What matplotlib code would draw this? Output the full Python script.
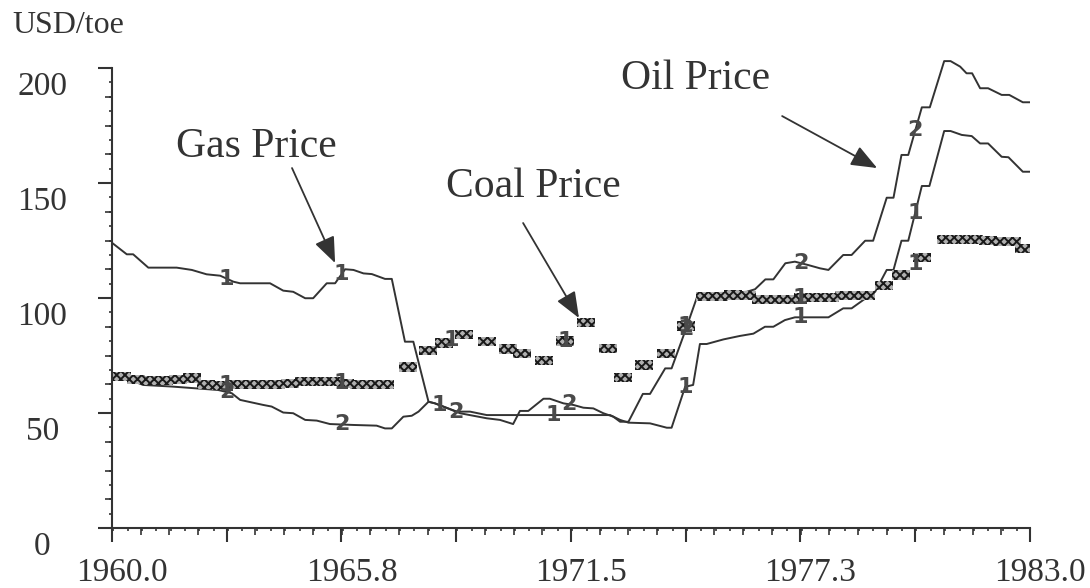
import numpy as np
import matplotlib
matplotlib.use("Agg")
import matplotlib.pyplot as plt
from matplotlib.ticker import FixedLocator, MultipleLocator
from matplotlib.transforms import ScaledTranslation

plt.rcParams["font.family"] = ["Liberation Serif", "DejaVu Serif"]
plt.rcParams["hatch.linewidth"] = 1.4

# ---- data (USD/toe) ----
gas_years = [1960.0, 1960.37, 1960.53, 1960.91, 1961.62, 1962.0, 1962.37, 1962.71,
             1963.04, 1963.21, 1963.96, 1964.29, 1964.54, 1964.84, 1965.04, 1965.38,
             1965.59, 1965.84, 1966.05, 1966.30, 1966.51, 1966.84, 1967.01, 1967.34,
             1967.55, 1967.93, 1968.09, 1968.64, 1968.97, 1969.39, 1972.48, 1972.73,
             1972.94, 1973.48, 1973.90, 1974.02, 1974.36, 1974.56, 1974.73, 1974.90,
             1975.32, 1975.73, 1976.07, 1976.36, 1976.57, 1976.86, 1977.11, 1977.95,
             1978.32, 1978.53, 1978.82, 1979.12, 1979.41, 1979.58, 1979.78, 1979.95,
             1980.29, 1980.48, 1980.85, 1981.01, 1981.29, 1981.54, 1981.75, 1981.95,
             1982.29, 1982.46, 1982.82, 1983.0]
gas = [124.0, 119.0, 119.0, 113.2, 113.2, 112.2, 110.3, 109.7,
       107.1, 106.4, 106.4, 103.2, 102.7, 99.9, 99.9, 106.4,
       106.4, 112.5, 112.2, 110.7, 110.4, 108.3, 108.3, 81.0,
       81.0, 54.9, 54.2, 50.6, 50.6, 49.1, 49.1, 47.0,
       45.8, 45.5, 43.6, 43.6, 61.4, 62.2, 80.0, 80.0,
       82.0, 83.5, 84.5, 87.5, 87.5, 90.4, 91.6, 91.6,
       95.5, 95.5, 99.1, 102.7, 112.2, 112.2, 124.9, 124.9,
       148.7, 148.7, 172.6, 172.6, 170.9, 170.4, 167.2, 167.2,
       161.4, 161.2, 154.9, 154.9]

oil_years = [1960.0, 1960.78, 1961.5, 1962.66, 1963.0, 1963.21, 1963.42, 1963.79,
             1964.0, 1964.29, 1964.54, 1964.84, 1965.13, 1965.46, 1966.05, 1966.63,
             1966.84, 1967.01, 1967.30, 1967.51, 1967.68, 1967.93, 1968.09, 1968.72,
             1969.39, 1969.72, 1970.05, 1970.22, 1970.43, 1970.81, 1970.97, 1971.31,
             1971.56, 1971.81, 1972.06, 1972.31, 1972.56, 1972.73, 1972.94, 1973.30,
             1973.48, 1973.86, 1974.02, 1974.31, 1974.69, 1975.5, 1975.9, 1976.11,
             1976.37, 1976.57, 1976.87, 1977.11, 1977.45, 1977.74, 1977.95, 1978.32,
             1978.53, 1978.87, 1979.07, 1979.41, 1979.58, 1979.78, 1979.95, 1980.29,
             1980.49, 1980.85, 1981.01, 1981.25, 1981.41, 1981.55, 1981.75, 1981.95,
             1982.29, 1982.48, 1982.82, 1983.0]
oil = [67.5, 62.2, 61.5, 60.0, 58.6, 55.7, 54.9, 53.5,
       52.8, 50.2, 49.9, 47.0, 46.7, 45.2, 44.8, 44.5,
       43.3, 43.3, 48.4, 48.8, 50.6, 54.9, 54.2, 49.9,
       47.7, 47.0, 45.2, 50.9, 50.9, 56.2, 56.2, 54.2,
       53.5, 52.3, 52.0, 49.9, 48.4, 46.2, 46.2, 58.3,
       58.3, 69.4, 69.4, 83.2, 102.0, 102.3, 102.7, 103.8,
       108.1, 108.1, 115.1, 115.8, 114.3, 112.9, 112.2, 118.7,
       118.7, 124.9, 124.9, 143.6, 143.6, 162.2, 162.2, 182.9,
       182.9, 203.0, 203.0, 200.6, 197.7, 197.7, 191.2, 191.2,
       188.3, 188.3, 185.1, 185.1]

coal_years = [1960.25, 1960.6, 1960.95, 1961.3, 1961.65, 1962.0, 1962.35, 1962.7,
              1963.05, 1963.4, 1963.75, 1964.1, 1964.45, 1964.8, 1965.15, 1965.5,
              1965.85, 1966.2, 1966.55, 1966.85, 1967.42, 1967.92, 1968.32, 1968.82,
              1969.40, 1969.92, 1970.27, 1970.82, 1971.35, 1971.88, 1972.43, 1972.80,
              1973.33, 1973.88, 1974.38, 1974.85, 1975.2, 1975.55, 1975.9, 1976.25,
              1976.6, 1976.95, 1977.3, 1977.65, 1978.0, 1978.35, 1978.7, 1978.9,
              1979.35, 1979.78, 1980.3, 1980.9, 1981.25, 1981.6, 1981.95, 1982.3,
              1982.55, 1982.85]
coal = [66.0, 64.5, 64.2, 64.2, 64.5, 65.2, 62.5, 61.9,
        62.3, 62.3, 62.3, 62.5, 62.8, 63.6, 63.6, 63.6,
        62.8, 62.3, 62.3, 62.3, 70.0, 77.2, 80.4, 84.3,
        81.2, 77.8, 75.9, 72.7, 81.3, 89.3, 77.9, 65.6,
        70.9, 75.9, 87.8, 100.5, 100.5, 101.3, 101.0, 99.3,
        99.3, 99.5, 100.2, 100.2, 100.2, 101.0, 101.0, 101.0,
        105.4, 110.0, 117.5, 125.6, 125.6, 125.3, 125.0, 124.5,
        124.5, 121.6]

xtick_labels = ["1960.0", "", "1965.8", "", "1971.5", "", "1977.3", "", "1983.0"]
ytick_values = [0, 50, 100, 150, 200]
# where the series id digits sit on each curve
gas_marker_years = [1962.875, 1965.75, 1968.2, 1971.05, 1974.375, 1977.25, 1980.125]
oil_marker_years = [1962.875, 1965.75, 1968.625, 1971.45, 1974.375, 1977.25, 1980.125]
coal_marker_years = [1962.875, 1965.75, 1968.5, 1971.35, 1974.375, 1977.25, 1980.125]

INK = "#333333"

fig = plt.figure(figsize=(10.9, 5.88), dpi=100)
ax = fig.add_axes([112 / 1090, 60 / 588, 918 / 1090, 471.5 / 588])
ax.set_xlim(1960, 1983)
ax.set_ylim(0, 205)

ax.plot(gas_years, gas, color=INK, lw=1.4, zorder=2)
ax.plot(oil_years, oil, color=INK, lw=1.4, zorder=2)

coal_h = 4.0
ax.bar(coal_years, coal_h, bottom=np.array(coal) - coal_h / 2, width=0.45,
       facecolor="#b0b0b0", edgecolor="#1a1a1a", hatch="xxxx", linewidth=0, zorder=3)

# series id markers along the curves
lab_kw = dict(ha="center", va="center", fontsize=16, fontweight="bold",
              family="DejaVu Sans", color="#4a4a4a", zorder=5)
for x in gas_marker_years:
    ax.text(x, np.interp(x, gas_years, gas), "1", **lab_kw)
for x in oil_marker_years:
    ax.text(x, np.interp(x, oil_years, oil), "2", **lab_kw)
for x in coal_marker_years:
    ax.text(x, np.interp(x, coal_years, coal), "1", **lab_kw)

# annotations
arr = dict(arrowstyle="-|>,head_length=0.8,head_width=0.32", color=INK, lw=1.3,
           shrinkA=0, shrinkB=0, mutation_scale=20)
ax.annotate("", xy=(1965.59, 115.2), xytext=(1964.51, 156.5), arrowprops=arr, zorder=6)
ax.annotate("", xy=(1971.70, 91.3), xytext=(1970.30, 132.6), arrowprops=arr, zorder=6)
ax.annotate("", xy=(1979.17, 156.5), xytext=(1976.79, 179.1), arrowprops=arr, zorder=6)
ax.text(1963.61, 161.3, "Gas Price", fontsize=30, ha="center", va="baseline", color=INK)
ax.text(1970.55, 143.9, "Coal Price", fontsize=30, ha="center", va="baseline", color=INK)
ax.text(1974.61, 190.9, "Oil Price", fontsize=30, ha="center", va="baseline", color=INK)

fig.text(12 / 1090, 1 - 33 / 588, "USD/toe", fontsize=23, ha="left", va="baseline", color=INK)

# axes styling
for s in ("top", "right"):
    ax.spines[s].set_visible(False)
for s in ("left", "bottom"):
    ax.spines[s].set_linewidth(1.5)
    ax.spines[s].set_color(INK)
ax.spines["left"].set_bounds(0, 200)

ax.xaxis.set_major_locator(FixedLocator(np.arange(1960, 1983.01, 2.875)))
ax.set_xticklabels(xtick_labels)
ax.xaxis.set_minor_locator(MultipleLocator(0.359375))
ax.yaxis.set_major_locator(FixedLocator(ytick_values))
ax.set_yticklabels([str(v) for v in ytick_values])
ax.yaxis.set_minor_locator(MultipleLocator(6.25))
ax.tick_params(which="major", length=10, width=1.5, color=INK, labelsize=24,
               labelcolor=INK, direction="out")
ax.tick_params(which="minor", length=2.5, width=1.2, color=INK, direction="out")
ax.tick_params(axis="x", pad=11)
ax.tick_params(axis="y", pad=40)

secx = ax.secondary_xaxis("bottom")
secx.set_xticks(np.arange(1960, 1983.01, 0.71875))
secx.tick_params(length=5, width=1.2, color=INK, labelbottom=False, direction="out")
secx.spines["bottom"].set_visible(False)
secy = ax.secondary_yaxis("left")
secy.set_yticks(np.arange(0, 200.1, 12.5))
secy.tick_params(length=5, width=1.2, color=INK, labelleft=False, direction="out")
secy.spines["left"].set_visible(False)

for lab in ax.get_xticklabels():
    lab.set_transform(lab.get_transform() + ScaledTranslation(0.10, 0, fig.dpi_scale_trans))
for lab in ax.get_yticklabels():
    lab.set_ha("center")
    lab.set_transform(lab.get_transform() + ScaledTranslation(0, -0.15, fig.dpi_scale_trans))

fig.savefig("out.png", dpi=100, facecolor="white")
